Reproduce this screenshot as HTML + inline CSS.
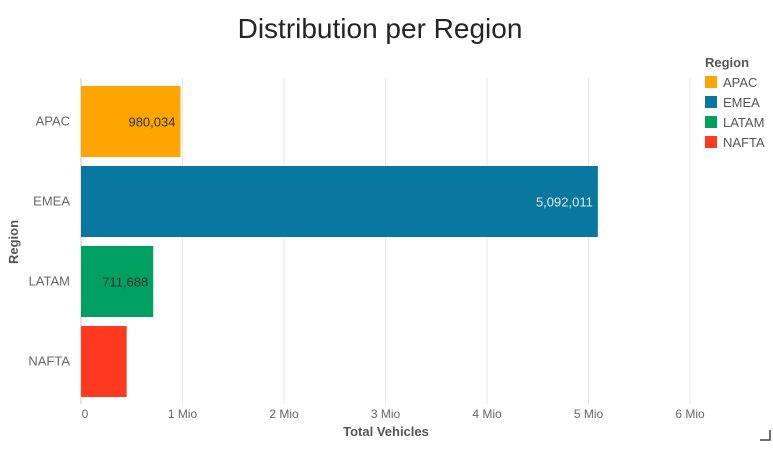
<!DOCTYPE html>
<html><head><meta charset="utf-8"><style>
body{margin:0;background:#fff;font-family:"Liberation Sans",sans-serif}
svg text{font-family:"Liberation Sans",sans-serif}
</style></head><body>
<svg width="773" height="448">
<text x="380" y="38" text-anchor="middle" font-size="28" fill="#252423" style="font-weight:300">Distribution per Region</text>
<g id="grid"></g><g id="bars"></g>
<text x="18" y="242" transform="rotate(-90 18 242)" text-anchor="middle" font-size="13" font-weight="bold" fill="#555">Region</text>
<text x="386" y="436" text-anchor="middle" font-size="13" font-weight="bold" fill="#555">Total Vehicles</text>
<g>
<text x="705" y="67" font-size="13" font-weight="bold" fill="#555">Region</text>
<g id="legend"></g></g>
<path d="M760 440 H770 V430" stroke="#444" stroke-width="1.5" fill="none"/>
</svg>
<script>
const categories=["APAC","EMEA","LATAM","NAFTA"];
const values=[980034,5092011,711688,450000];
const labels=["980,034","5,092,011","711,688",""];
const colors=["#FFA500","#0878A0","#00A060","#FF3A20"];
const ticks=[0,1,2,3,4,5,6];
const tickLabels=["0","1 Mio","2 Mio","3 Mio","4 Mio","5 Mio","6 Mio"];
const ns="http://www.w3.org/2000/svg";
const x=v=>81+v/1e6*101.5;
const y0=86,step=80,bh=71;
const y=i=>y0+i*step;
function mk(t,a,p){const e=document.createElementNS(ns,t);for(const k in a)e.setAttribute(k,a[k]);p.appendChild(e);return e;}
const g=document.getElementById('grid');
ticks.forEach((t,i)=>{
 const l=mk('line',{x1:x(t*1e6),x2:x(t*1e6),y1:78,y2:404,stroke:i?'#e8e8e8':'#c8c8c8'},g);
 
 
 const tx=mk('text',{x:x(t*1e6)+(i?0:4),y:418,'text-anchor':'middle','font-size':12,fill:'#666'},g);
 tx.textContent=tickLabels[i];
 
 
});
const b=document.getElementById('bars');
categories.forEach((c,i)=>{
 const r=mk('rect',{x:x(0),y:y(i),width:x(values[i])-x(0),height:bh,fill:colors[i]},b);
 
 
 const t=mk('text',{x:70,y:y(i)+bh/2+4,'text-anchor':'end','font-size':13,fill:'#666'},b);
 t.textContent=c;
 
 
 if(labels[i]){const v=mk('text',{x:x(values[i])-5,y:y(i)+bh/2+5,'text-anchor':'end','font-size':13,fill:i==1?'#e8e8e8':'#333'},b);
 v.textContent=labels[i];
 
 }
});
const lg=document.getElementById('legend');
categories.forEach((c,i)=>{
 const r=mk('rect',{x:705,y:76+i*20,width:12,height:12,fill:colors[i]},lg);
 
 
 const t=mk('text',{x:723,y:87+i*20,'font-size':13,fill:'#555'},lg);
 t.textContent=c;
 
 
});
</script>
</body></html>
